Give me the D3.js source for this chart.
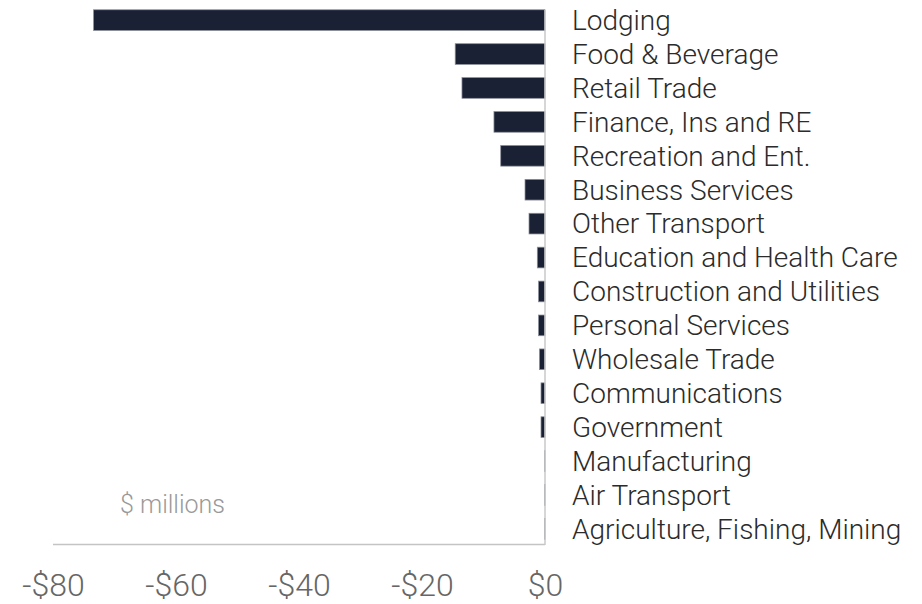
<!DOCTYPE html>
<html>
<head>
<meta charset="utf-8">
<script src="https://cdn.jsdelivr.net/npm/d3@7/dist/d3.min.js"></script>
<style>
  html, body { margin: 0; padding: 0; background: #fff; }
  svg { display: block; font-family: "Roboto Light", Roboto, "Noto Sans", sans-serif; font-weight: 300; }
</style>
</head>
<body>
<svg id="chart" width="922" height="604"></svg>
<script>
// Change by industry, $ millions
const categories = [
  "Lodging", "Food & Beverage", "Retail Trade", "Finance, Ins and RE",
  "Recreation and Ent.", "Business Services", "Other Transport",
  "Education and Health Care", "Construction and Utilities",
  "Personal Services", "Wholesale Trade", "Communications", "Government",
  "Manufacturing", "Air Transport", "Agriculture, Fishing, Mining"
];
const values = [
  -73.4, -14.6, -13.5, -8.3, -7.2, -3.25, -2.6, -1.25, -1.05, -1.05,
  -0.9, -0.65, -0.65, -0.1, -0.1, -0.1
];
const tickValues = [-80, -60, -40, -20, 0];
const tickLabels = ["-$80", "-$60", "-$40", "-$20", "$0"];
const unitLabel = "$ millions";

const svg = d3.select("#chart");

const x = d3.scaleLinear().domain([-80, 0]).range([53, 545]);
const y = d3.scaleBand().domain(categories).range([3, 546])
  .paddingInner(0.39).paddingOuter(0.2);

// bottom baseline
svg.append("line")
  .attr("x1", x(-80)).attr("x2", x(0))
  .attr("y1", 544.5).attr("y2", 544.5)
  .attr("stroke", "#c4c4c4").attr("stroke-width", 1.5);

// bars
svg.append("g").selectAll("rect")
  .data(categories)
  .join("rect")
  .attr("x", (d, i) => x(values[i]))
  .attr("y", d => y(d))
  .attr("width", (d, i) => x(0) - x(values[i]))
  .attr("height", y.bandwidth())
  .attr("fill", "#1a2135")
  .attr("stroke", "#8a8e99")
  .attr("stroke-width", 0.75);

// zero line
svg.append("line")
  .attr("x1", x(0)).attr("x2", x(0))
  .attr("y1", 10).attr("y2", 545)
  .attr("stroke", "#c8c8c8").attr("stroke-width", 1.5);

// category labels
svg.append("g").selectAll("text")
  .data(categories)
  .join("text")
  .attr("x", 572)
  .attr("y", d => y(d) + y.bandwidth() / 2)
  .attr("dy", "0.35em")
  .attr("font-size", 28)
  .attr("fill", "#2b2b2b")
  .text(d => d);

// value axis
const axis = d3.axisBottom(x)
  .tickValues(tickValues)
  .tickSize(0)
  .tickPadding(0)
  .tickFormat((d, i) => tickLabels[i]);

const ax = svg.append("g")
  .attr("transform", "translate(0,585)")
  .call(axis);
ax.select(".domain").remove();
ax.attr("font-family", null).attr("font-size", null);
ax.selectAll("text")
  .attr("dy", "0.35em")
  .attr("font-size", 32)
  .attr("fill", "#666666");

// unit note
svg.append("text")
  .attr("x", 120)
  .attr("y", 504)
  .attr("dy", "0.35em")
  .attr("font-size", 25)
  .attr("fill", "#999999")
  .text(unitLabel);
</script>
</body>
</html>
